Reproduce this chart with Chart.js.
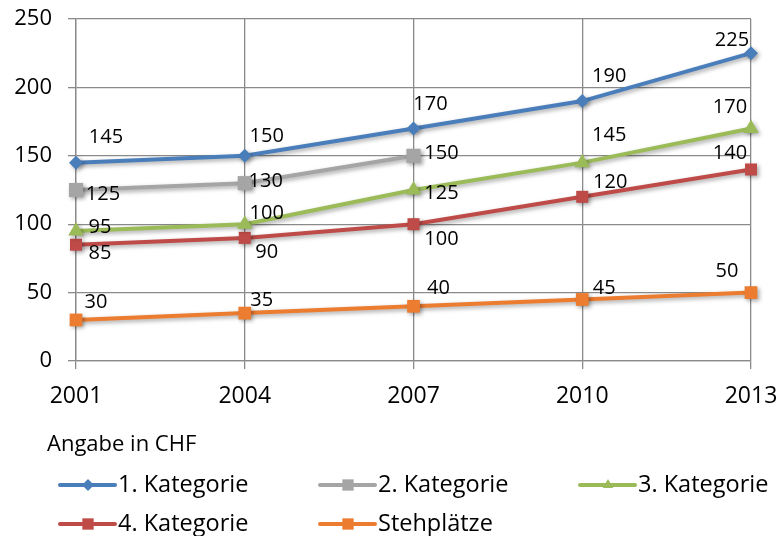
<!DOCTYPE html>
<html>
<head>
<meta charset="utf-8">
<script src="https://cdn.jsdelivr.net/npm/chart.js@4/dist/chart.umd.min.js"></script>
<style>
  html, body { margin: 0; padding: 0; background: #fff; }
  #wrap { width: 777px; height: 536px; }
</style>
</head>
<body>
<div id="wrap"><canvas id="c" width="777" height="536"></canvas></div>
<script>
// Ticketpreise nach Kategorie
const years = ['2001', '2004', '2007', '2010', '2013'];
const kat1 = [145, 150, 170, 190, 225];
const kat2 = [125, 130, 150, null, null];
const kat3 = [95, 100, 125, 145, 170];
const kat4 = [85, 90, 100, 120, 140];
const steh = [30, 35, 40, 45, 50];
const seriesNames = ['1. Kategorie', '2. Kategorie', '3. Kategorie', '4. Kategorie', 'Stehplätze'];
const noteText = 'Angabe in CHF';

// Placement of each value label relative to its point (dx, dy in px)
const labelOffsets = [
  [[30, -25], [22, -20], [17, -24], [27, -25], [-19, -13]],
  [[27, 4], [21, -2], [28, -3], null, null],
  [[24, -4], [22, -11], [28, 3], [27, -27], [-21, -21]],
  [[24, 9], [22, 14], [28, 15], [28, -15], [-21, -16]],
  [[20, -18], [17, -13], [25, -18], [22, -11], [-24, -21]]
];

const FONT = '"Open Sans", "Noto Sans", sans-serif';
const colors = ['#4A7EBB', '#A5A5A5', '#9BBB59', '#BE4B48', '#EC7C30'];
const markers = ['rectRot', 'rect', 'triangle', 'rect', 'rect'];
const markerRadius = [7, 10, 9, 8.5, 9];

const valueSets = [kat1, kat2, kat3, kat4, steh];
const datasets = valueSets.map((vals, i) => ({
  label: seriesNames[i],
  data: vals,
  borderColor: colors[i],
  backgroundColor: colors[i],
  borderWidth: 4,
  pointStyle: markers[i],
  pointRadius: markerRadius[i],
  pointHoverRadius: markerRadius[i],
  pointBorderWidth: 0,
  pointBackgroundColor: colors[i],
  tension: 0,
  spanGaps: false,
  clip: false
}));

// Soft drop shadow under lines and markers
const shadowPlugin = {
  id: 'lineShadow',
  beforeDatasetsDraw(chart) {
    const ctx = chart.ctx;
    ctx.save();
    ctx.shadowColor = 'rgba(0,0,0,0.35)';
    ctx.shadowBlur = 4;
    ctx.shadowOffsetX = 2;
    ctx.shadowOffsetY = 2;
  },
  afterDatasetsDraw(chart) {
    chart.ctx.restore();
  }
};

// Value labels next to points
const valueLabelPlugin = {
  id: 'valueLabels',
  afterDatasetsDraw(chart) {
    const ctx = chart.ctx;
    ctx.save();
    ctx.font = '20px ' + FONT;
    ctx.fillStyle = '#000';
    ctx.textAlign = 'center';
    ctx.textBaseline = 'middle';
    chart.data.datasets.forEach((ds, di) => {
      const meta = chart.getDatasetMeta(di);
      meta.data.forEach((pt, j) => {
        const v = ds.data[j];
        if (v === null || v === undefined) return;
        const off = labelOffsets[di][j] || [0, -15];
        ctx.fillText(String(v), pt.x + off[0], pt.y + off[1]);
      });
    });
    ctx.restore();
  }
};

function drawMarker(ctx, style, x, y, r) {
  ctx.beginPath();
  if (style === 'rectRot') {
    ctx.moveTo(x, y - r); ctx.lineTo(x + r, y); ctx.lineTo(x, y + r); ctx.lineTo(x - r, y);
  } else if (style === 'triangle') {
    ctx.moveTo(x, y - r); ctx.lineTo(x + r * 0.87, y + r * 0.5); ctx.lineTo(x - r * 0.87, y + r * 0.5);
  } else {
    const s = r * Math.SQRT1_2;
    ctx.rect(x - s, y - s, 2 * s, 2 * s);
  }
  ctx.closePath();
  ctx.fill();
}

// Note and legend in three columns below the plot
const legendPlugin = {
  id: 'gridLegend',
  afterDraw(chart) {
    const ctx = chart.ctx;
    ctx.save();
    ctx.fillStyle = '#000';
    ctx.textBaseline = 'alphabetic';
    ctx.textAlign = 'left';
    ctx.font = '22px ' + FONT;
    ctx.fillText(noteText, 47, 451);
    const colX = [60, 320, 580];
    const rowY = [485, 524];
    chart.data.datasets.forEach((ds, i) => {
      const x = colX[i % 3];
      const y = rowY[Math.floor(i / 3)];
      ctx.strokeStyle = ds.borderColor;
      ctx.lineWidth = 4;
      ctx.lineCap = 'round';
      ctx.beginPath();
      ctx.moveTo(x, y);
      ctx.lineTo(x + 55, y);
      ctx.stroke();
      ctx.fillStyle = ds.borderColor;
      drawMarker(ctx, ds.pointStyle, x + 28, y, ds.pointStyle === 'rect' ? 8 : 6);
      ctx.fillStyle = '#000';
      ctx.font = '23.5px ' + FONT;
      ctx.fillText(ds.label, x + 58, y + 7);
    });
    ctx.restore();
  }
};

new Chart(document.getElementById('c'), {
  type: 'line',
  data: { labels: years, datasets },
  plugins: [shadowPlugin, valueLabelPlugin, legendPlugin],
  options: {
    responsive: false,
    animation: false,
    events: [],
    layout: { padding: { top: 19, right: 26, left: 0, bottom: 0 } },
    plugins: { legend: { display: false }, tooltip: { enabled: false } },
    scales: {
      x: {
        offset: false,
        grid: { color: '#8A8A8A', lineWidth: 1.3, tickLength: 8, drawTicks: true },
        border: { color: '#8A8A8A', width: 1.3 },
        ticks: { font: { family: FONT, size: 23 }, color: '#000', padding: 14, maxRotation: 0 },
        afterFit(scale) {
          scale.height = 175;
          scale.paddingLeft = 0;
          scale.paddingRight = 0;
        }
      },
      y: {
        min: 0, max: 250,
        ticks: { stepSize: 50, font: { family: FONT, size: 22 }, color: '#000', padding: 16 },
        grid: { color: '#8A8A8A', lineWidth: 1.3, tickLength: 8 },
        border: { color: '#8A8A8A', width: 1.3 },
        afterFit(scale) {
          scale.width = 76;
          scale.paddingTop = 0;
          scale.paddingBottom = 0;
        }
      }
    }
  }
});
</script>
</body>
</html>
